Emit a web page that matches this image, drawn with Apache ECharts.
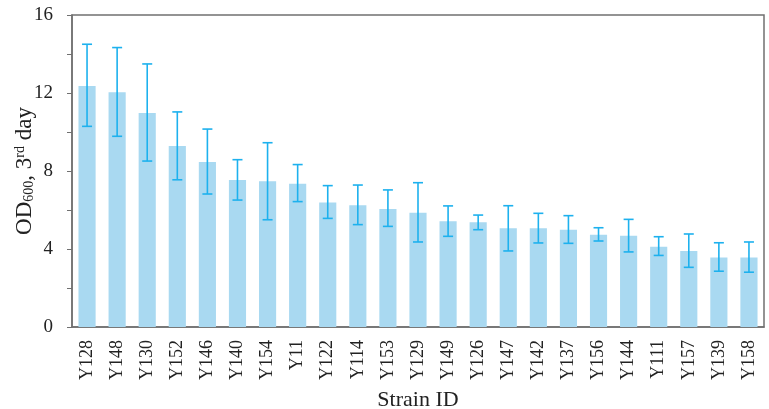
<!DOCTYPE html>
<html>
<head>
<meta charset="utf-8">
<script src="https://cdn.jsdelivr.net/npm/echarts@6/dist/echarts.min.js"></script>
<style>
  html, body { margin: 0; padding: 0; background: #fff; }
  #chart { width: 769px; height: 409px; }
</style>
</head>
<body>
<div id="chart"></div>
<script>
// strain IDs, sorted by mean OD600
const strains = ["Y128", "Y148", "Y130", "Y152", "Y146", "Y140", "Y154", "Y11", "Y122", "Y114", "Y153", "Y129",
  "Y149", "Y126", "Y147", "Y142", "Y137", "Y156", "Y144", "Y111", "Y157", "Y139", "Y158"];
const odMean = [12.36, 12.04, 10.97, 9.28, 8.46, 7.54, 7.47, 7.35, 6.39, 6.24, 6.05, 5.86,
  5.42, 5.37, 5.06, 5.06, 4.99, 4.73, 4.68, 4.12, 3.90, 3.57, 3.57];
const errHigh = [14.5, 14.33, 13.49, 11.03, 10.15, 8.58, 9.45, 8.33, 7.25, 7.28, 7.03, 7.40,
  6.21, 5.74, 6.22, 5.83, 5.71, 5.09, 5.52, 4.63, 4.77, 4.32, 4.36];
const errLow = [10.29, 9.78, 8.51, 7.55, 6.82, 6.51, 5.50, 6.43, 5.57, 5.25, 5.16, 4.36,
  4.65, 4.99, 3.90, 4.31, 4.29, 4.41, 3.85, 3.67, 3.06, 2.86, 2.81];
const yTicks = [0, 4, 8, 12, 16];

const serif = "Liberation Serif";
const axisGray = "#707070";

const chart = echarts.init(document.getElementById("chart"));

const option = {
  animation: false,
  textStyle: { fontFamily: serif },
  grid: {
    left: 72, top: 15, right: 5, bottom: 82,
    outerBoundsMode: "none",
    containLabel: false,
    show: true, borderColor: axisGray, borderWidth: 1.5
  },
  xAxis: {
    type: "category",
    data: strains,
    name: "Strain ID",
    nameLocation: "middle",
    nameGap: 62,
    nameMoveOverlap: false,
    nameTextStyle: { fontSize: 22, color: "#222", fontFamily: serif },
    axisLine: { lineStyle: { color: axisGray, width: 1.5 } },
    axisTick: { show: false },
    axisLabel: { rotate: 90, fontSize: 18, color: "#222", margin: 13, interval: 0, fontFamily: serif }
  },
  yAxis: {
    type: "value",
    min: 0, max: 16, interval: 2,
    name: "{a|OD}{s|600}{a|, 3}{p|rd}{a| day}",
    nameLocation: "middle",
    nameGap: 36,
    nameMoveOverlap: false,
    nameTextStyle: {
      rich: {
        a: { fontSize: 23, color: "#222", fontFamily: serif },
        s: { fontSize: 14, color: "#222", fontFamily: serif, verticalAlign: "bottom", padding: [9, 0, 0, 0] },
        p: { fontSize: 14, color: "#222", fontFamily: serif, verticalAlign: "top", padding: [0, 0, 9, 0] }
      }
    },
    axisLine: { show: true, lineStyle: { color: axisGray, width: 1.5 } },
    axisTick: { show: true, length: 5, lineStyle: { color: axisGray, width: 1 } },
    splitLine: { show: false },
    axisLabel: {
      fontSize: 19, color: "#222", margin: 19, fontFamily: serif,
      formatter: v => (yTicks.indexOf(v) >= 0 ? String(v) : "")
    }
  },
  series: [
    {
      type: "bar",
      data: odMean,
      barWidth: "57%",
      itemStyle: { color: "#a9d9f1" },
      z: 2
    },
    {
      type: "custom",
      data: strains.map((s, i) => [i, errLow[i], errHigh[i]]),
      z: 3,
      renderItem(params, api) {
        const lo = api.coord([api.value(0), api.value(1)]);
        const hi = api.coord([api.value(0), api.value(2)]);
        const w = 5;
        const style = { stroke: "#1db1ee", lineWidth: 1.6 };
        return {
          type: "group",
          children: [
            { type: "line", shape: { x1: hi[0], y1: hi[1], x2: lo[0], y2: lo[1] }, style },
            { type: "line", shape: { x1: hi[0] - w, y1: hi[1], x2: hi[0] + w, y2: hi[1] }, style },
            { type: "line", shape: { x1: lo[0] - w, y1: lo[1], x2: lo[0] + w, y2: lo[1] }, style }
          ]
        };
      }
    }
  ]
};

chart.setOption(option);
</script>
</body>
</html>
